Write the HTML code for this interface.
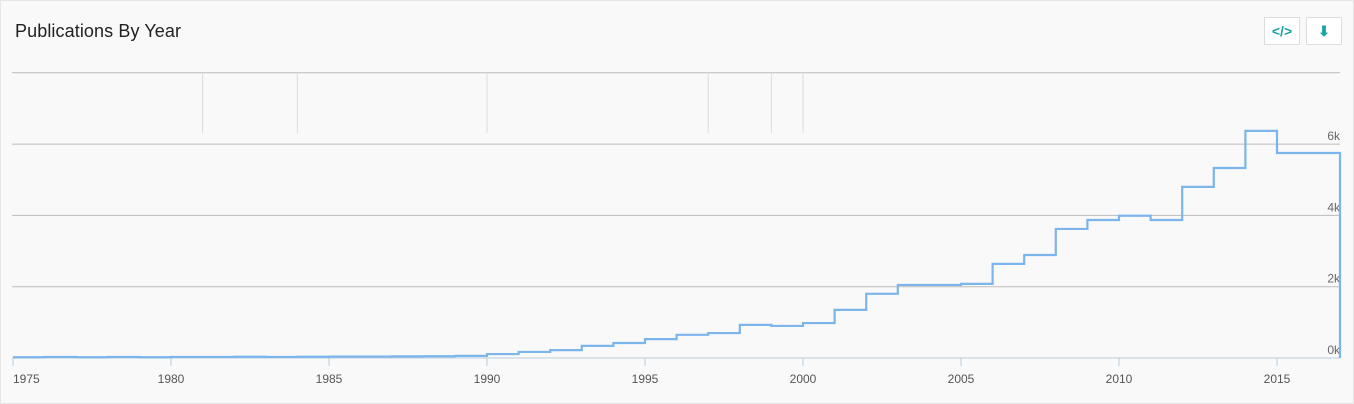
<!DOCTYPE html>
<html><head><meta charset="utf-8"><style>
body{margin:0;background:#fff;font-family:"Liberation Sans",sans-serif;}
#card{position:absolute;left:0;top:0;width:1352px;height:402px;background:#f9f9f9;border:1px solid #e6e6e6;}
#title{position:absolute;left:14px;top:20px;font-size:18px;color:#222;letter-spacing:0.1px}
.btn{position:absolute;top:16px;width:34px;height:26px;border:1px solid #ddd;background:#fff;color:#1aa3a3;font-size:14px;text-align:center;line-height:26px;font-weight:bold}
</style></head><body>
<div id="card">
<div id="title">Publications By Year</div>
<div class="btn" style="left:1263px">&lt;/&gt;</div>
<div class="btn" style="left:1305px">⬇</div>
</div>
<svg id="chart" width="1354" height="404" style="position:absolute;left:0;top:0"></svg>
<script>
const years=[1975,1976,1977,1978,1979,1980,1981,1982,1983,1984,1985,1986,1987,1988,1989,1990,1991,1992,1993,1994,1995,1996,1997,1998,1999,2000,2001,2002,2003,2004,2005,2006,2007,2008,2009,2010,2011,2012,2013,2014,2015,2016];
const counts=[20,30,20,30,20,30,30,35,30,35,40,40,45,50,60,110,170,220,340,420,530,650,700,930,900,980,1350,1800,2050,2050,2080,2640,2890,3620,3870,3990,3870,4800,5330,6370,5750,5750];
const yTicks=[0,2000,4000,6000,8000];
const yTickLabels=["0k","2k","4k","6k",""];
const xTicks=[1975,1980,1985,1990,1995,2000,2005,2010,2015];
const annotYears=[1981,1984,1990,1997,1999,2000];
const svg=document.getElementById('chart');
const NS='http://www.w3.org/2000/svg';
const X=y=>13+(y-1975)*31.6, Y=v=>358-v*71.3/2000;
const L=12,R=1340;
function mk(t,a){const e=document.createElementNS(NS,t);for(const k in a)e.setAttribute(k,a[k]);svg.appendChild(e);return e;}
yTicks.forEach((t,i)=>{
 const g=mk('line',{x1:L,x2:R,y1:Y(t),y2:Y(t),stroke:i==0?'#b8cde0':'#bbb','stroke-width':1});
 
 
 if(yTickLabels[i]){const tx=mk('text',{x:R,y:Y(t)-4,'text-anchor':'end','font-size':12,fill:'#666','font-family':'Liberation Sans, sans-serif'});tx.textContent=yTickLabels[i];
 
 }
});
annotYears.forEach(a=>{const l=mk('line',{x1:X(a),x2:X(a),y1:Y(8000),y2:Y(8000)+60,stroke:'#dcdcdc','stroke-width':1});
 
 });
xTicks.forEach(t=>{
 const l=mk('line',{x1:X(t),x2:X(t),y1:358,y2:366,stroke:'#b8cde0'});
 
 
 const tx=mk('text',{x:X(t),y:383,'text-anchor':t==1975?'start':'middle','font-size':12,fill:'#555','font-family':'Liberation Sans, sans-serif'});tx.textContent=t;
 
 
});
let d='';
years.forEach((y,i)=>{const x0=X(y),x1=Math.min(X(y+1),R),yy=Y(counts[i]);d+=(i?'L':'M')+x0+','+yy+'L'+x1+','+yy;});
d+='L'+R+','+Y(0);
const p=mk('path',{d:d,fill:'none',stroke:'#7cb5ec','stroke-width':2.2});


</script>
</body></html>
